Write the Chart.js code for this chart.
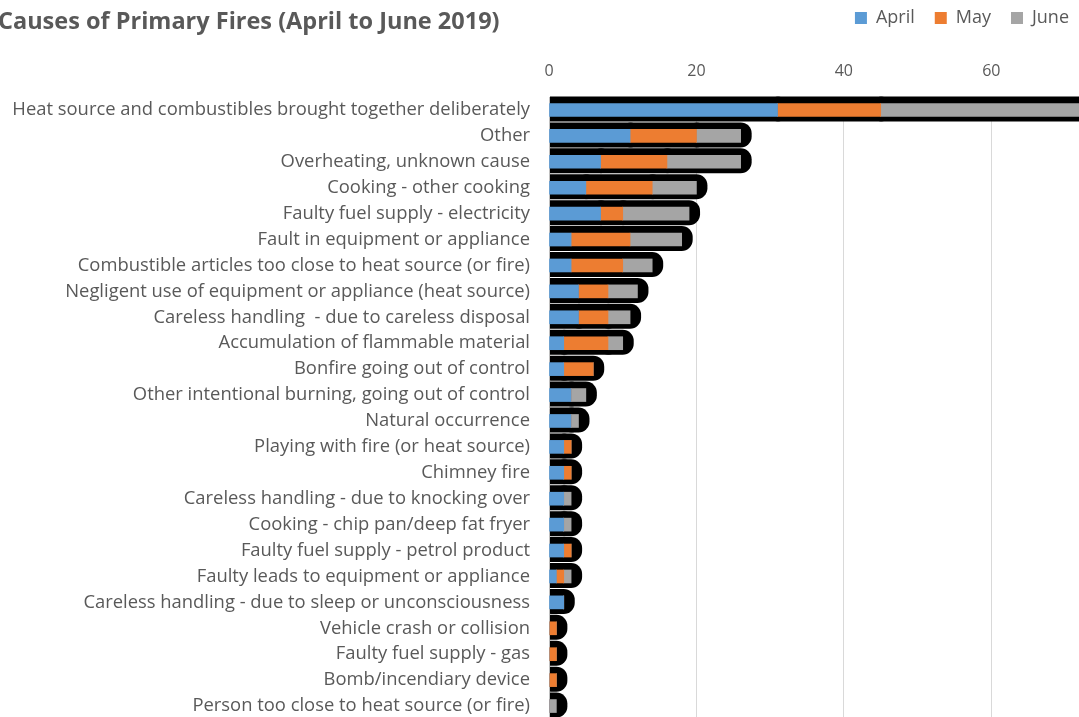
<!DOCTYPE html>
<html>
<head>
<meta charset="utf-8">
<title>Causes of Primary Fires</title>
<script src="https://cdn.jsdelivr.net/npm/chart.js@4.4.1/dist/chart.umd.min.js"></script>
<style>
    html, body { margin: 0; padding: 0; background: #fff; overflow: hidden; }
    #chartBox { position: absolute; left: 0; top: 0; width: 1079px; height: 719px; }
</style>
</head>
<body>
<div id="chartBox"><canvas id="firesChart" width="1079" height="719"></canvas></div>
<script>
// --- Data ---
const chartTitle = 'Causes of Primary Fires (April to June 2019)';
const causes = [
    'Heat source and combustibles brought together deliberately',
    'Other',
    'Overheating, unknown cause',
    'Cooking - other cooking',
    'Faulty fuel supply - electricity',
    'Fault in equipment or appliance',
    'Combustible articles too close to heat source (or fire)',
    'Negligent use of equipment or appliance (heat source)',
    'Careless handling  - due to careless disposal',
    'Accumulation of flammable material',
    'Bonfire going out of control',
    'Other intentional burning, going out of control',
    'Natural occurrence',
    'Playing with fire (or heat source)',
    'Chimney fire',
    'Careless handling - due to knocking over',
    'Cooking - chip pan/deep fat fryer',
    'Faulty fuel supply - petrol product',
    'Faulty leads to equipment or appliance',
    'Careless handling - due to sleep or unconsciousness',
    'Vehicle crash or collision',
    'Faulty fuel supply - gas',
    'Bomb/incendiary device',
    'Person too close to heat source (or fire)'
];
const monthNames = ['April', 'May', 'June'];
const aprilFires = [31, 11, 7, 5, 7, 3, 3, 4, 4, 2, 2, 3, 3, 2, 2, 2, 2, 2, 1, 2, 0, 0, 0, 0];
const mayFires   = [14, 9, 9, 9, 3, 8, 7, 4, 4, 6, 4, 0, 0, 1, 1, 0, 0, 1, 1, 0, 1, 1, 1, 0];
const juneFires  = [29, 6, 10, 6, 9, 7, 4, 4, 3, 2, 0, 2, 1, 0, 0, 1, 1, 0, 1, 0, 0, 0, 0, 1];
const xTickStep = 20;
const xVisibleMax = 71.9; // the original picture is cropped just past 70

document.addEventListener('DOMContentLoaded', () => {
    const canvas = document.getElementById('firesChart');
    const textGrey = '#595959';
    const monthColors = ['#5b9bd5', '#ed7d31', '#a5a5a5'];
    const seriesValues = [aprilFires, mayFires, juneFires];

    // black blobs behind each bar segment (the odd shadow effect in the original)
    const shadowPlugin = {
        id: 'barShadows',
        beforeDatasetsDraw(chart) {
            const ctx = chart.ctx;
            const area = chart.chartArea;
            ctx.save();
            ctx.beginPath();
            ctx.rect(area.left + 1, area.top - 10, area.right - area.left + 20, area.bottom - area.top + 20);
            ctx.clip();
            ctx.fillStyle = '#000';
            chart.data.datasets.forEach((ds, di) => {
                const meta = chart.getDatasetMeta(di);
                meta.data.forEach((bar, i) => {
                    if (!ds.data[i]) return;
                    const left = Math.min(bar.base, bar.x);
                    const right = Math.max(bar.base, bar.x);
                    const top = bar.y - bar.height / 2;
                    const bottom = bar.y + bar.height / 2;
                    ctx.beginPath();
                    ctx.roundRect(left - 10, top - 7, right - left + 21, bottom - top + 12, 11);
                    ctx.fill();
                });
            });
            ctx.restore();
        }
    };

    // title drawn in the same row as the legend, hard left like the cropped original
    const titlePlugin = {
        id: 'leftTitle',
        afterDraw(chart) {
            const ctx = chart.ctx;
            ctx.save();
            ctx.font = 'bold 23.5px "Open Sans"';
            ctx.fillStyle = textGrey;
            ctx.textBaseline = 'alphabetic';
            ctx.textAlign = 'left';
            ctx.fillText(chartTitle, -2, 29);
            ctx.restore();
        }
    };

    new Chart(canvas.getContext('2d'), {
        type: 'bar',
        data: {
            labels: causes,
            datasets: monthNames.map((name, i) => ({
                label: name,
                data: seriesValues[i],
                backgroundColor: monthColors[i],
                borderWidth: 0,
                barThickness: 13
            }))
        },
        options: {
            indexAxis: 'y',
            responsive: false,
            animation: false,
            // negative padding: legend sits higher and further right (cropped look)
            layout: { padding: { top: -11, right: -10, left: 0, bottom: 0 } },
            plugins: {
                title: { display: false },
                tooltip: { enabled: false },
                legend: {
                    display: true,
                    position: 'top',
                    align: 'end',
                    labels: {
                        color: textGrey,
                        font: { family: 'Open Sans', size: 18 },
                        boxWidth: 12,
                        boxHeight: 12,
                        padding: 20
                    }
                }
            },
            scales: {
                x: {
                    position: 'top',
                    stacked: true,
                    min: 0,
                    max: xVisibleMax,
                    ticks: {
                        stepSize: xTickStep,
                        color: textGrey,
                        font: { family: 'Open Sans', size: 16 },
                        padding: 16,
                        callback: (v) => (v % xTickStep === 0 ? v : '')
                    },
                    grid: {
                        drawTicks: false,
                        color: (c) => (c.tick && c.tick.value % xTickStep === 0 && c.tick.value !== 0 ? '#d9d9d9' : 'rgba(0,0,0,0)'),
                        lineWidth: 1
                    },
                    border: { display: false },
                    afterFit: (scale) => {
                        scale.height = 60;
                        scale.paddingLeft = 0;
                        scale.paddingRight = 0;
                    }
                },
                y: {
                    stacked: true,
                    ticks: {
                        color: textGrey,
                        font: { family: 'Open Sans', size: 18.4 },
                        padding: 19,
                        autoSkip: false
                    },
                    grid: { display: false, drawTicks: false },
                    border: { display: true, color: '#bfbfbf', width: 1 },
                    afterFit: (scale) => {
                        scale.width = 549;
                        scale.paddingTop = 0;
                        scale.paddingBottom = 0;
                    }
                }
            }
        },
        plugins: [shadowPlugin, titlePlugin]
    });
});
</script>
</body>
</html>
